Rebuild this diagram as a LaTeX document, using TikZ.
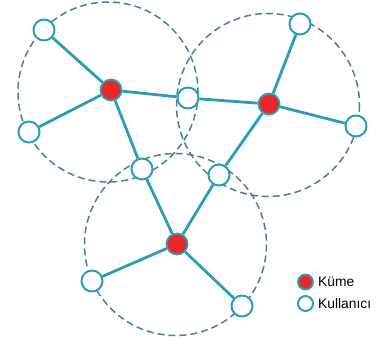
\documentclass[tikz,border=0pt]{standalone}
\usepackage{fontspec}
\setmainfont{Liberation Sans}
\usetikzlibrary{backgrounds}
\definecolor{tealc}{RGB}{45,158,178}
\definecolor{dashc}{RGB}{80,128,140}
\definecolor{redc}{RGB}{232,40,42}
\tikzset{
  user/.style={circle,draw=tealc,line width=2pt,fill=white,minimum size=21pt,inner sep=0pt},
  cluster/.style={circle,draw=tealc,line width=1.8pt,fill=redc,minimum size=21pt,inner sep=0pt},
  luser/.style={circle,draw=tealc,line width=2pt,fill=white,minimum size=15pt,inner sep=0pt},
  lcluster/.style={circle,draw=tealc,line width=1.8pt,fill=redc,minimum size=15pt,inner sep=0pt},
  link/.style={draw=tealc,line width=2.8pt},
  coverage/.style={draw=dashc,line width=1.5pt,dash pattern=on 7pt off 4pt},
  lbl/.style={font=\fontsize{13.8}{16}\selectfont,anchor=west,inner sep=0pt}
}
\begin{document}
\begin{tikzpicture}[x=1pt,y=-1pt]
\useasboundingbox (0,0) rectangle (377,345);
% clusters
\node[cluster] (c1) at (111,90) {};
\node[cluster] (c2) at (269,104) {};
\node[cluster] (c3) at (177,244) {};
% users
\node[user] (u1) at (44,30) {};
\node[user] (u2) at (29,132) {};
\node[user] (u3) at (188,98) {};
\node[user] (u4) at (142,169) {};
\node[user] (u5) at (300,24) {};
\node[user] (u6) at (356,126) {};
\node[user] (u7) at (219,175) {};
\node[user] (u8) at (92,281) {};
\node[user] (u9) at (242,306) {};
\begin{scope}[on background layer]
\draw[coverage] (108,92) circle (90);
\draw[coverage] (268,105) circle (91.5);
\draw[coverage] (175.5,244.5) circle (91);
\draw[link] (c1) -- (u1);
\draw[link] (c1) -- (u2);
\draw[link] (c1) -- (u3);
\draw[link] (c1) -- (u4);
\draw[link] (c2) -- (u3);
\draw[link] (c2) -- (u5);
\draw[link] (c2) -- (u6);
\draw[link] (c2) -- (u7);
\draw[link] (c3) -- (u4);
\draw[link] (c3) -- (u7);
\draw[link] (c3) -- (u8);
\draw[link] (c3) -- (u9);
\end{scope}
% legend
\node[lcluster] (lk) at (305.5,282) {};
\node[lbl] (lkt) at (318,282) {Küme};
\node[luser] (lu) at (305.5,303.5) {};
\node[lbl] (lut) at (318,303.5) {Kullanıcı};
\end{tikzpicture}
\end{document}
